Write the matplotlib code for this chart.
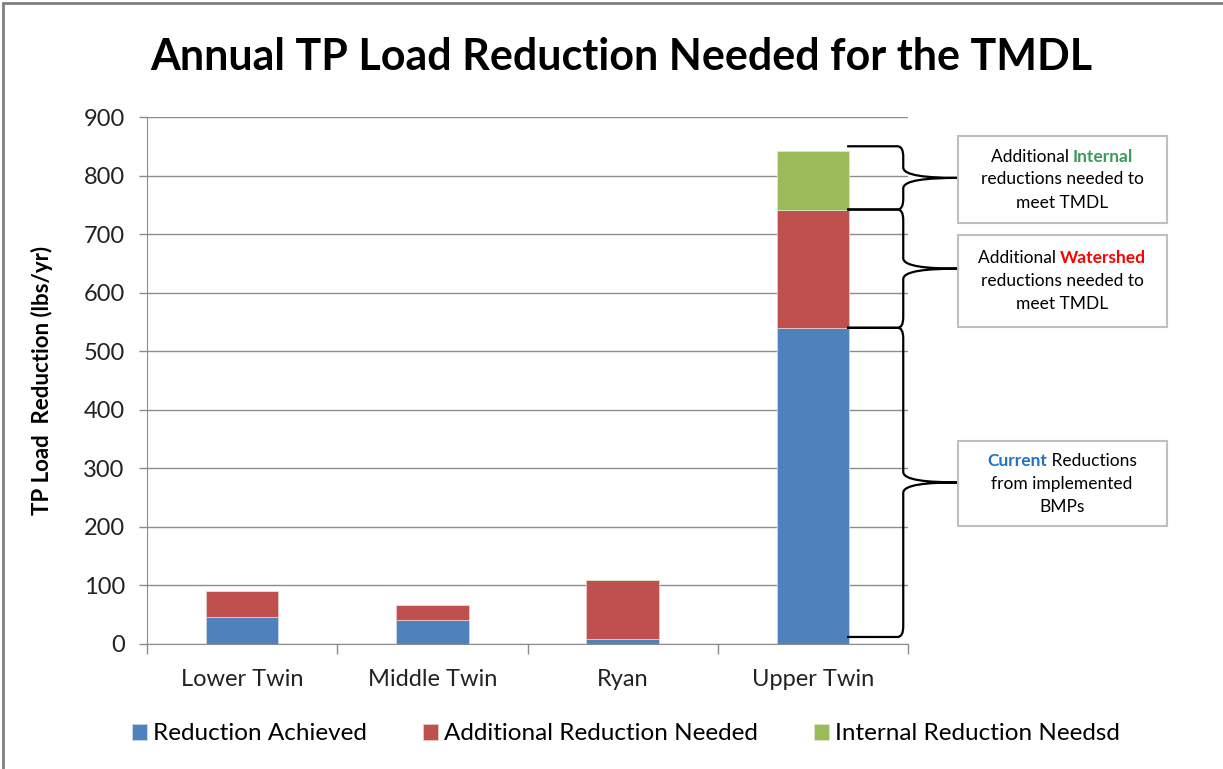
import matplotlib
matplotlib.use("Agg")
import matplotlib.pyplot as plt
import matplotlib.patches as mpatches
from matplotlib.path import Path
import numpy as np

plt.rcParams['font.family'] = ['Lato', 'DejaVu Sans']

lakes = ["Lower Twin", "Middle Twin", "Ryan", "Upper Twin"]
achieved = [46, 41, 8, 540]
additional = [44, 25, 101, 202]
internal = [0, 0, 0, 100]
yticks = [0, 100, 200, 300, 400, 500, 600, 700, 800, 900]

blue = '#4F81BD'
red = '#C0504D'
green = '#9BBB59'
grid_c = '#8C8C8C'

W, H = 1223, 769
fig = plt.figure(figsize=(W / 100, H / 100), dpi=100)
ax = fig.add_axes([147 / W, 1 - 644 / H, (908 - 147) / W, (644 - 117) / H])

x = np.arange(len(lakes))
bw = 0.38
b1 = ax.bar(x, achieved, bw, color=blue, edgecolor='#C9D6EA', linewidth=0.6,
            label='Reduction Achieved', zorder=3)
b2 = ax.bar(x, additional, bw, bottom=achieved, color=red, edgecolor='#EBC9C8',
            linewidth=0.6, label='Additional Reduction Needed', zorder=3)
bottom3 = np.array(achieved) + np.array(additional)
b3 = ax.bar(x, internal, bw, bottom=bottom3, color=green, edgecolor='#DCE8C8',
            linewidth=0.6, label='Internal Reduction Needsd', zorder=3)

ax.set_xlim(-0.5, 3.5)
ax.set_ylim(0, 900)
ax.set_yticks(yticks)
ax.set_yticklabels([str(v) for v in yticks], fontsize=17, color='#222222')
ax.yaxis.grid(True, color=grid_c, linewidth=1.0, zorder=0)
ax.set_xticks(np.arange(-0.5, 4, 1.0))
ax.set_xticklabels([])
ax.set_xticks(x, minor=True)
ax.set_xticklabels(lakes, minor=True, fontsize=17, color='#222222')
ax.tick_params(axis='x', which='minor', length=0, pad=18)
ax.tick_params(axis='x', which='major', length=7, color=grid_c, width=1)
ax.tick_params(axis='y', length=6, color=grid_c, width=1, pad=10)
for s in ['top', 'right']:
    ax.spines[s].set_visible(False)
ax.spines['left'].set_color(grid_c)
ax.spines['bottom'].set_color(grid_c)
ax.set_ylabel('TP Load  Reduction (lbs/yr)', fontsize=16, fontweight='bold')
ax.yaxis.set_label_coords((53 - 147) / 761, 0.5)

fig.text(0.508, 1 - 57 / H, 'Annual TP Load Reduction Needed for the TMDL',
         ha='center', va='center', fontsize=31, fontweight='bold')


# curly braces to the right of the Upper Twin bar
def brace(y_top, y_bot, x0=3.18, xv=3.475, xt=3.77):
    dx = 0.03
    r = 18
    ym = (y_top + y_bot) / 2
    verts = [(x0, y_top), (xv - dx, y_top),
             (xv, y_top), (xv, y_top - r),
             (xv, ym + r),
             (xv, ym + 4), (xv + 0.12, ym), (xt, ym),
             (xv + 0.12, ym), (xv, ym - 4), (xv, ym - r),
             (xv, y_bot + r),
             (xv, y_bot), (xv - dx, y_bot),
             (x0, y_bot)]
    codes = [Path.MOVETO, Path.LINETO,
             Path.CURVE3, Path.CURVE3,
             Path.LINETO,
             Path.CURVE4, Path.CURVE4, Path.CURVE4,
             Path.CURVE4, Path.CURVE4, Path.CURVE4,
             Path.LINETO,
             Path.CURVE3, Path.CURVE3,
             Path.LINETO]
    p = mpatches.PathPatch(Path(verts, codes), facecolor='none', edgecolor='black',
                           linewidth=1.6, clip_on=False, zorder=5)
    ax.add_patch(p)


tot = bottom3[3] + internal[3]
brace(tot + 8, bottom3[3])
brace(bottom3[3], achieved[3])
brace(achieved[3], 12)

# annotation boxes
renderer = fig.canvas.get_renderer()


def line_parts(xc, y, parts, size=12.5):
    objs = []
    for txt, col, wt in parts:
        t = fig.text(0, 1 - y / H, txt, color=col, fontweight=wt, fontsize=size,
                     va='center', ha='left')
        objs.append(t)
    widths = [o.get_window_extent(renderer).width for o in objs]
    total = sum(widths)
    xs = xc - total / 2
    for o, w in zip(objs, widths):
        o.set_x(xs / W)
        xs += w


boxes = [
    (136, 223, [[("Additional ", 'black', 'normal'), ("Internal", '#3A9B5C', 'bold')],
                [("reductions needed to", 'black', 'normal')],
                [("meet TMDL", 'black', 'normal')]]),
    (235, 327, [[("Additional ", 'black', 'normal'), ("Watershed", '#FF0000', 'bold')],
                [("reductions needed to", 'black', 'normal')],
                [("meet TMDL", 'black', 'normal')]]),
    (441, 526, [[("Current", '#1F72C4', 'bold'), (" Reductions", 'black', 'normal')],
                [("from implemented", 'black', 'normal')],
                [("BMPs", 'black', 'normal')]]),
]
for ytop, ybot, lines in boxes:
    rect = mpatches.Rectangle((958 / W, 1 - ybot / H), (1167 - 958) / W, (ybot - ytop) / H,
                              transform=fig.transFigure, facecolor='white',
                              edgecolor='#BFBFBF', linewidth=1.5)
    fig.patches.append(rect)
    ym = (ytop + ybot) / 2
    for i, parts in enumerate(lines):
        line_parts(1062, ym + (i - 1) * 23, parts)

fig.legend(handles=[b1, b2, b3], loc='center', bbox_to_anchor=(0.512, 1 - 734 / H),
           ncol=3, frameon=False, fontsize=17.5, handlelength=0.62, handleheight=0.62,
           handletextpad=0.25, columnspacing=2.3)

border = mpatches.Rectangle((3 / W, -0.1), 1.2, 1.1 - 3 / H, transform=fig.transFigure,
                            facecolor='none', edgecolor='#808080', linewidth=2)
fig.patches.append(border)

fig.savefig('out.png', dpi=100)
